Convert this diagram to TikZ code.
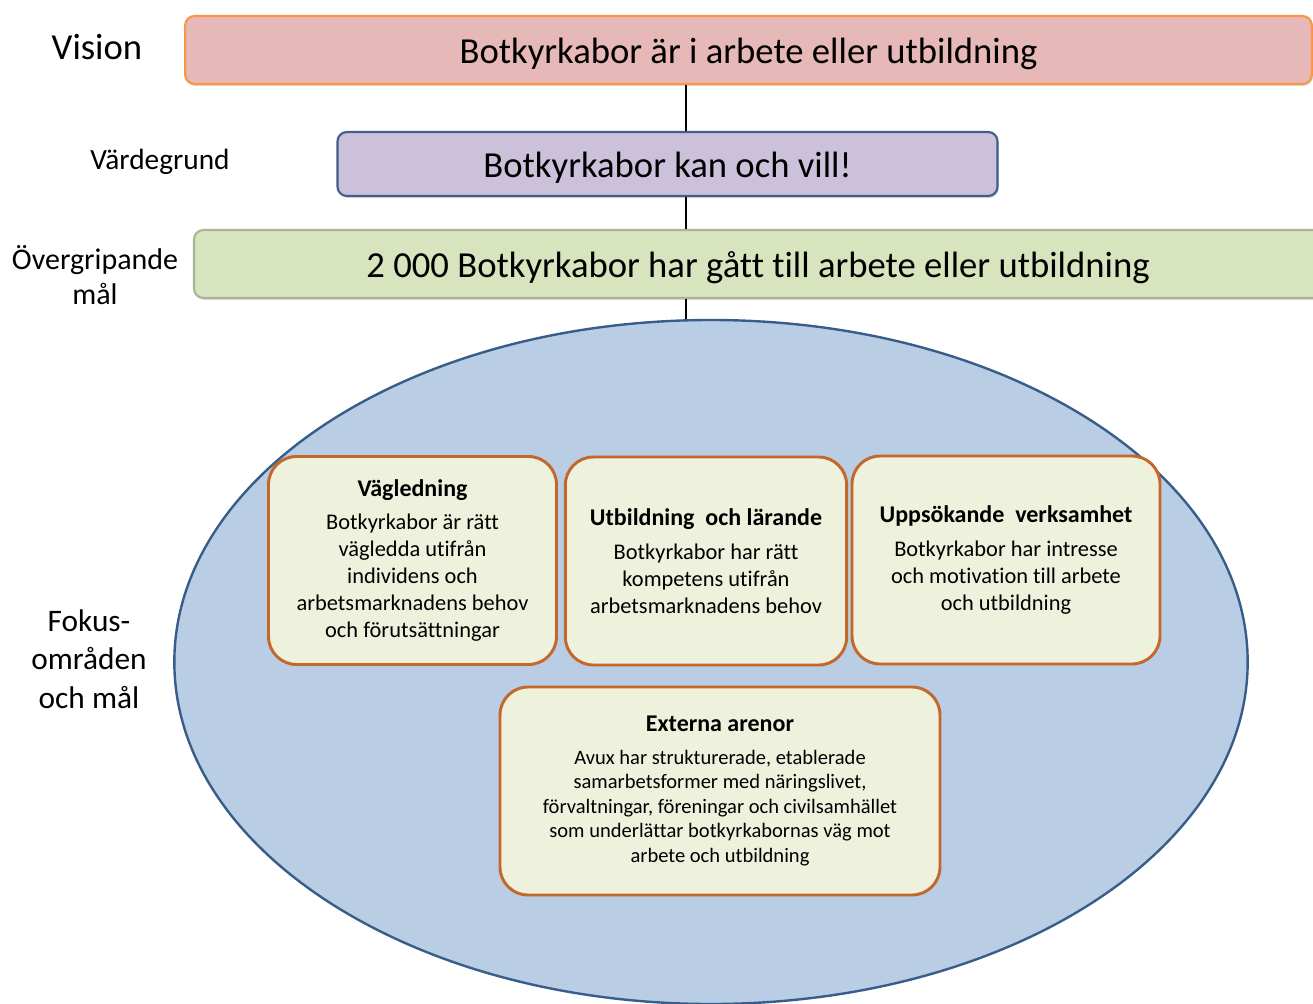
\documentclass[tikz,border=0pt]{standalone}
\usepackage{fontspec}
\setmainfont[Ligatures=NoCommon]{Carlito}
\usepackage{tikz}
\usetikzlibrary{arrows, positioning, shapes.geometric, shadows}
\usepackage{xcolor}

\definecolor{visfill}{HTML}{E6B9B8}
\definecolor{visedge}{HTML}{F79646}
\definecolor{valfill}{HTML}{CCC1DA}
\definecolor{valedge}{HTML}{3F5F8A}
\definecolor{malfill}{HTML}{D7E4BD}
\definecolor{maledge}{HTML}{A9B49A}
\definecolor{ovalfill}{HTML}{B9CDE5}
\definecolor{ovaledge}{HTML}{385D8A}
\definecolor{areafill}{HTML}{EEF2DD}
\definecolor{areaedge}{HTML}{C3672B}

\newcommand{\areatitle}[1]{{\fontsize{18}{21}\selectfont\bfseries #1}}

\begin{document}
\begin{tikzpicture}[x=0.75pt, y=-0.75pt]
    \tikzstyle{level} = [draw, rounded corners=7pt, line width=1.6pt, text centered,
        font=\fontsize{27.5}{33}\selectfont, text height=25pt, text depth=5.5pt,
        drop shadow={opacity=0.25, shadow xshift=1pt, shadow yshift=-1.5pt}]
    \tikzstyle{label} = [text centered, align=center]
    \tikzstyle{oval} = [ellipse, draw=ovaledge, fill=ovalfill, line width=1.8pt, inner sep=0pt]
    \tikzstyle{area} = [draw=areaedge, fill=areafill, rounded corners=21pt, line width=2.2pt,
        align=center, inner sep=0pt, minimum height=156pt,
        font=\fontsize{16.8}{20.25}\selectfont]
    \tikzstyle{link} = [line width=1pt]
    \useasboundingbox (0,0) rectangle (1313,1003);
    \coordinate (spine) at (686,0);
    % levels
    \node [label, font=\fontsize{27.5}{33}\selectfont] at (97,47) (vis) {Vision};
    \node [label, font=\fontsize{22}{26}\selectfont] at (160,162) (val) {Värdegrund};
    \node [label, font=\fontsize{22.5}{26}\selectfont] at (95,275) (mal) {Övergripande\\mål};
    \node [label, font=\fontsize{23.5}{29}\selectfont] at (89,659) (fok) {Fokus-\\områden\\och mål};
    \node [level, fill=visfill, draw=visedge, minimum width=845pt, minimum height=51pt]
        at (748.5,50) (1) {Botkyrkabor är i arbete eller utbildning};
    \node [level, fill=valfill, draw=valedge, minimum width=495pt, minimum height=48pt]
        at (667.5,164) (2) {Botkyrkabor kan och vill!};
    \node [level, fill=malfill, draw=maledge, minimum width=846pt, minimum height=51pt]
        at (758,264) (3) {2 000 Botkyrkabor har gått till arbete eller utbildning};
    \node [oval, minimum width=805pt, minimum height=513pt] at (711,662) (4) {};
    % focus areas
    \node [area, minimum width=216pt] at (412.5,560.5) (5)
        {\areatitle{Vägledning}\\[5pt]Botkyrkabor är rätt\\vägledda utifrån\\individens och\\arbetsmarknadens behov\\och förutsättningar};
    \node [area, minimum width=211pt] at (706,561) (6)
        {\areatitle{Utbildning\ \ och lärande}\\[5pt]Botkyrkabor har rätt\\kompetens utifrån\\arbetsmarknadens behov};
    \node [area, minimum width=231pt] at (1006,560) (7)
        {\areatitle{Uppsökande\ \ verksamhet}\\[5pt]Botkyrkabor har intresse\\och motivation till arbete\\och utbildning};
    \node [area, minimum width=330pt, font=\fontsize{15.4}{18.4}\selectfont] at (720,791) (8)
        {\areatitle{Externa arenor}\\[6pt]Avux har strukturerade, etablerade\\samarbetsformer med näringslivet,\\förvaltningar, föreningar och civilsamhället\\som underlättar botkyrkabornas väg mot\\arbete och utbildning};
    \draw [link] (1.south -| spine) -- (2.north -| spine);
    \draw [link] (2.south -| spine) -- (3.north -| spine);
    \draw [link] (3.south -| spine) -- (4.north -| spine);
\end{tikzpicture}
\end{document}
